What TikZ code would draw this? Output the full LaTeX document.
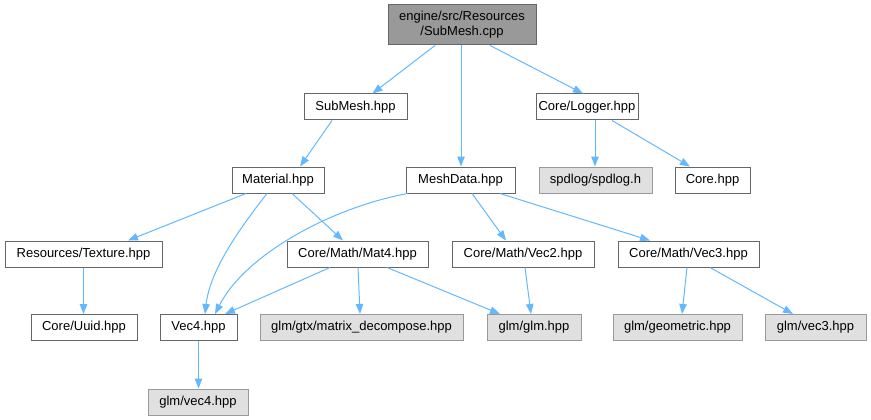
\documentclass[tikz,border=0pt]{standalone}
\usepackage{fontspec}
\setmainfont{Liberation Sans}
\usetikzlibrary{arrows.meta}
\definecolor{edgeblue}{HTML}{63B8FF}
\definecolor{nodeborder}{HTML}{666666}
\definecolor{rootfill}{HTML}{999999}
\definecolor{sysfill}{HTML}{E0E0E0}
\definecolor{sysborder}{HTML}{999999}
\tikzset{
  filebox/.style={draw=nodeborder, fill=white, line width=1pt, inner sep=0pt,
    minimum height=26pt, font=\fontsize{13}{15}\selectfont, text=black},
  sysbox/.style={filebox, draw=sysborder, fill=sysfill},
  rootbox/.style={filebox, fill=rootfill, minimum height=40pt, align=center},
  dep/.style={draw=edgeblue, line width=1pt, -{Triangle[length=10pt,width=7.5pt]}},
}
\begin{document}
\begin{tikzpicture}[x=1pt,y=-1pt]
\useasboundingbox (0,0) rectangle (871,420);
\node[rootbox, minimum width=148pt] (root) at (462,25) {engine/src/Resources\\/SubMesh.cpp};
\node[filebox, minimum width=103pt] (submesh) at (355.5,107) {SubMesh.hpp};
\node[filebox, minimum width=102pt] (logger) at (587,107) {Core/Logger.hpp};
\node[filebox, minimum width=92pt] (material) at (278,180) {Material.hpp};
\node[filebox, minimum width=109pt] (meshdata) at (460.5,180) {MeshData.hpp};
\node[sysbox, minimum width=113pt] (spdlog) at (595.5,180) {spdlog/spdlog.h};
\node[filebox, minimum width=75pt] (core) at (712.5,180) {Core.hpp};
\node[filebox, minimum width=157pt] (texture) at (83.5,254) {Resources/Texture.hpp};
\node[filebox, minimum width=141pt] (mat4) at (357.5,254) {Core/Math/Mat4.hpp};
\node[filebox, minimum width=142pt] (vec2) at (523,254) {Core/Math/Vec2.hpp};
\node[filebox, minimum width=141pt] (vec3) at (688.5,254) {Core/Math/Vec3.hpp};
\node[filebox, minimum width=106pt] (uuid) at (84,327.5) {Core/Uuid.hpp};
\node[filebox, minimum width=77pt] (vec4) at (198.5,327.5) {Vec4.hpp};
\node[sysbox, minimum width=203pt] (matdec) at (361.5,327.5) {glm/gtx/matrix\_decompose.hpp};
\node[sysbox, minimum width=94pt] (glm) at (534,327.5) {glm/glm.hpp};
\node[sysbox, minimum width=129pt] (geom) at (677.5,327.5) {glm/geometric.hpp};
\node[sysbox, minimum width=101pt] (vec3g) at (815.5,327.5) {glm/vec3.hpp};
\node[sysbox, minimum width=100pt] (vec4g) at (198,402) {glm/vec4.hpp};

\draw[dep] ([xshift=-27pt]root.south) -- ([xshift=17pt]submesh.north);
\draw[dep] ([xshift=-1pt]root.south) -- ([xshift=0.5pt]meshdata.north);
\draw[dep] ([xshift=28pt]root.south) -- ([xshift=-4pt]logger.north);
\draw[dep] ([xshift=-23.5pt]submesh.south) -- ([xshift=22pt]material.north);
\draw[dep] ([xshift=8pt]logger.south) -- ([xshift=-0.5pt]spdlog.north);
\draw[dep] ([xshift=25pt]logger.south) -- ([xshift=-22.5pt]core.north);
\draw[dep] ([xshift=-32pt]material.south) -- ([xshift=44.5pt]texture.north);
\draw[dep] ([xshift=-11pt]material.south) .. controls (240,228) and (210,270) .. ([xshift=6.5pt]vec4.north);
\draw[dep] ([xshift=14pt]material.south) -- ([xshift=-14.5pt]mat4.north);
\draw[dep] ([xshift=2pt]meshdata.south west) .. controls (330,208) and (245,255) .. ([xshift=16.5pt]vec4.north);
\draw[dep] ([xshift=11.5pt]meshdata.south) -- ([xshift=-17pt]vec2.north);
\draw[dep] ([xshift=39.5pt]meshdata.south) -- ([xshift=-38.5pt]vec3.north);
\draw[dep] ([xshift=-27.5pt]mat4.south) -- ([xshift=26.5pt]vec4.north);
\draw[dep] ([xshift=0.5pt]mat4.south) -- ([xshift=-1.5pt]matdec.north);
\draw[dep] ([xshift=29.5pt]mat4.south) -- ([xshift=-34pt]glm.north);
\draw[dep] ([xshift=2pt]vec2.south) -- ([xshift=-3pt]glm.north);
\draw[dep] ([xshift=-1.5pt]vec3.south) -- ([xshift=4.5pt]geom.north);
\draw[dep] ([xshift=21.5pt]vec3.south) -- ([xshift=-22.5pt]vec3g.north);
\draw[dep] (texture.south) -- (uuid.north -| texture.south);
\draw[dep] (vec4.south) -- (vec4g.north -| vec4.south);
\end{tikzpicture}
\end{document}
